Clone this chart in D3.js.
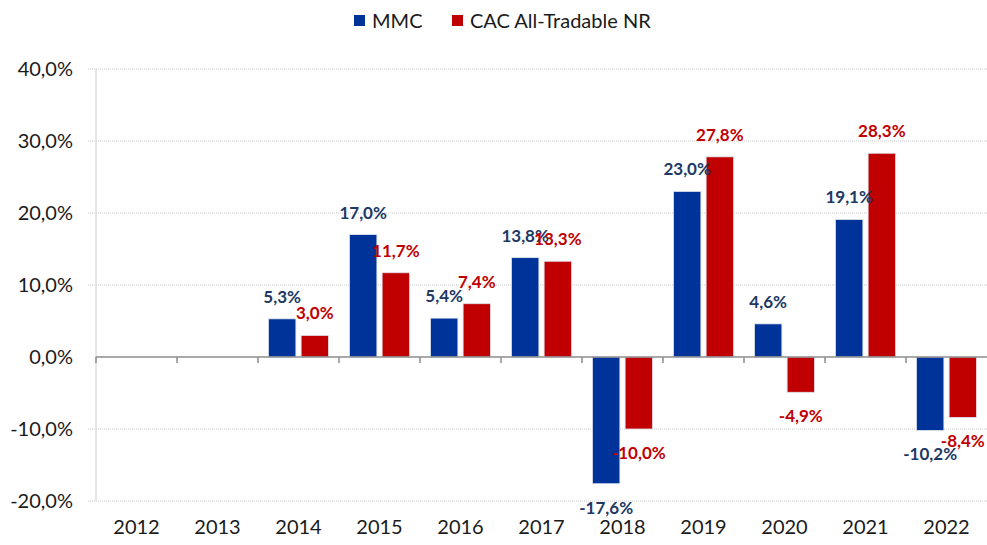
<!DOCTYPE html>
<html>
<head>
<meta charset="utf-8">
<script src="https://cdn.jsdelivr.net/npm/d3@7"></script>
<style>
  body { margin: 0; background: #fff; }
  text { font-family: Lato, "Open Sans", sans-serif; }
</style>
</head>
<body>
<div id="chart"></div>
<script>
// data (null = no bar)
var years = ["2012", "2013", "2014", "2015", "2016", "2017", "2018", "2019", "2020", "2021", "2022"];
var mmc = [null, null, 5.3, 17.0, 5.4, 13.8, -17.6, 23.0, 4.6, 19.1, -10.2];
var cac = [null, null, 3.0, 11.7, 7.4, 13.3, -10.0, 27.8, -4.9, 28.3, -8.4];
var seriesNames = ["MMC", "CAC All-Tradable NR"];
var yTicks = [-20, -10, 0, 10, 20, 30, 40];

var width = 987, height = 545;
var margin = { top: 69, right: 0, bottom: 44, left: 96 };
var colors = ["#003399", "#C00000"];
var labelColors = ["#203864", "#C00000"];

var fmt = function (v) { return v.toFixed(1).replace(".", ",") + "%"; };

var svg = d3.select("#chart").append("svg")
    .attr("width", width)
    .attr("height", height);

var x = d3.scaleBand()
    .domain(years)
    .range([margin.left, width - margin.right]);

var inner = d3.scaleBand()
    .domain([0, 1])
    .range([0, x.bandwidth()])
    .paddingInner(0.16)
    .paddingOuter(0.32);

var y = d3.scaleLinear()
    .domain([-20, 40])
    .range([height - margin.bottom, margin.top]);

// gridlines
svg.append("g")
    .selectAll("line")
    .data(yTicks.filter(function (d) { return d !== 0; }))
    .enter().append("line")
    .attr("x1", margin.left - 8)
    .attr("x2", width)
    .attr("y1", function (d) { return y(d); })
    .attr("y2", function (d) { return y(d); })
    .attr("stroke", "#c8c8c8")
    .attr("stroke-width", 1)
    .attr("stroke-dasharray", "1,1");

// y axis line
svg.append("line")
    .attr("x1", margin.left).attr("x2", margin.left)
    .attr("y1", y(40)).attr("y2", y(-20))
    .attr("stroke", "#d0d0d0");

// y tick labels
svg.append("g")
    .selectAll("text")
    .data(yTicks)
    .enter().append("text")
    .attr("x", 73)
    .attr("y", function (d) { return y(d); })
    .attr("dy", "0.35em")
    .attr("text-anchor", "end")
    .attr("font-size", 20)
    .attr("fill", "#1a1a1a")
    .text(fmt);

// bars
var series = [mmc, cac];
series.forEach(function (vals, s) {
    var pts = years.map(function (yr, i) { return { year: yr, v: vals[i] }; })
        .filter(function (d) { return d.v !== null; });
    svg.append("g")
        .selectAll("rect")
        .data(pts)
        .enter().append("rect")
        .attr("x", function (d) { return x(d.year) + inner(s); })
        .attr("width", inner.bandwidth())
        .attr("y", function (d) { return y(Math.max(0, d.v)); })
        .attr("height", function (d) { return Math.abs(y(d.v) - y(0)); })
        .attr("fill", colors[s])
        .attr("stroke", "#dfe4f0")
        .attr("stroke-width", 0.8);
});

// zero line with category ticks
svg.append("line")
    .attr("x1", margin.left).attr("x2", width)
    .attr("y1", y(0)).attr("y2", y(0))
    .attr("stroke", "#8c8c8c")
    .attr("stroke-width", 1.5);

svg.append("g")
    .selectAll("line")
    .data(years)
    .enter().append("line")
    .attr("x1", function (d) { return x(d); })
    .attr("x2", function (d) { return x(d); })
    .attr("y1", y(0))
    .attr("y2", y(0) + 6)
    .attr("stroke", "#8c8c8c")
    .attr("stroke-width", 1.5);

// x labels
svg.append("g")
    .selectAll("text")
    .data(years)
    .enter().append("text")
    .attr("x", function (d) { return x(d) + x.bandwidth() / 2; })
    .attr("y", 534)
    .attr("text-anchor", "middle")
    .attr("font-size", 20)
    .attr("fill", "#1a1a1a")
    .text(function (d) { return d; });

// value labels
series.forEach(function (vals, s) {
    var pts = years.map(function (yr, i) { return { year: yr, v: vals[i] }; })
        .filter(function (d) { return d.v !== null; });
    svg.append("g")
        .selectAll("text")
        .data(pts)
        .enter().append("text")
        .attr("x", function (d) { return x(d.year) + inner(s) + inner.bandwidth() / 2; })
        .attr("y", function (d) { return d.v >= 0 ? y(d.v) - 16 : y(d.v) + 30; })
        .attr("text-anchor", "middle")
        .attr("font-size", 17)
        .attr("font-weight", "bold")
        .attr("fill", labelColors[s])
        .text(function (d) { return fmt(d.v); });
});

// legend
var legend = svg.append("g");
var legendX = [354, 452];
seriesNames.forEach(function (name, s) {
    legend.append("rect")
        .attr("x", legendX[s]).attr("y", 15)
        .attr("width", 11).attr("height", 11)
        .attr("fill", colors[s]);
    legend.append("text")
        .attr("x", legendX[s] + 18).attr("y", 28)
        .attr("font-size", 20)
        .attr("fill", "#1a1a1a")
        .text(name);
});
</script>
</body>
</html>
